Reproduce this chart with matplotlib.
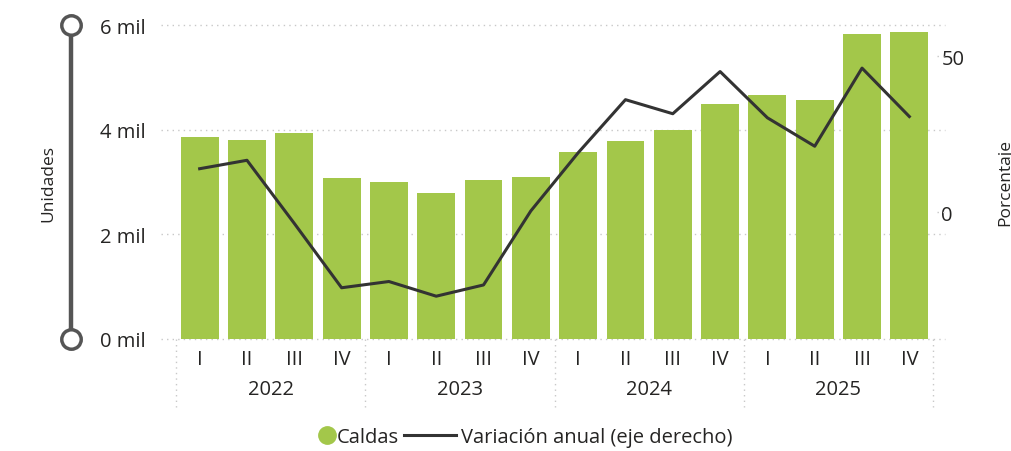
import matplotlib
matplotlib.use("Agg")
import matplotlib.pyplot as plt
from matplotlib.lines import Line2D
import numpy as np

plt.rcParams['font.family'] = ['Open Sans', 'DejaVu Sans']

# data
years = ["2022", "2023", "2024", "2025"]
quarters = ["I", "II", "III", "IV"]
unidades = [3860, 3800, 3945, 3085, 3000, 2785, 3030, 3105,
            3580, 3775, 3985, 4495, 4655, 4570, 5820, 5875]
variacion = [14.0, 16.7, -3.5, -24.1, -22.1, -26.8, -23.2, 0.5,
             19.1, 36.1, 31.6, 45.1, 30.3, 21.2, 46.2, 30.7]
left_ticks = [0, 2000, 4000, 6000]
left_labels = ["0 mil", "2 mil", "4 mil", "6 mil"]
right_ticks = [0, 50]

GREEN = "#A3C74A"
TXT = "#252423"
GRID = "#C8C8C8"
FS = 14.5

fig = plt.figure(figsize=(10.11, 4.52), dpi=100)
ax = fig.add_axes([176 / 1011, 1 - 340 / 452, 757 / 1011, 314 / 452])
ax2 = ax.twinx()

x = np.arange(len(unidades))
ax.bar(x, unidades, width=0.8, color=GREEN, zorder=2)
ax.set_xlim(-0.5, len(unidades) - 0.5)
ax.set_ylim(0, 6000)

ax2.plot(x, variacion, color="#333333", lw=2.2, zorder=3)
ax2.set_ylim(-40.5, 60)
ax.set_zorder(1)
ax2.set_zorder(2)
ax2.patch.set_visible(False)

for a in (ax, ax2):
    for s in a.spines.values():
        s.set_visible(False)

# left axis
ax.set_yticks(left_ticks)
ax.set_yticklabels(left_labels)
ax.tick_params(axis="y", length=0, pad=22, labelsize=FS, labelcolor=TXT)
ax.hlines(left_ticks, -0.02, 1.016, transform=ax.get_yaxis_transform(),
          colors=GRID, linestyles=(0, (1, 3)), lw=1, clip_on=False, zorder=0)

# slider-like decoration at the left
xd = (71 - 176) / 757
ax.plot([xd, xd], [0, 6000], transform=ax.get_yaxis_transform(), clip_on=False,
        color="#555555", lw=3.2, marker="o", ms=14, mfc="white", mec="#555555",
        mew=2.5, zorder=5)

# right axis
ax2.set_yticks(right_ticks)
ax2.tick_params(axis="y", length=0, pad=6, labelsize=FS, labelcolor=TXT)
ax2.hlines(right_ticks, 1.005, 1.018, transform=ax2.get_yaxis_transform(),
           colors=GRID, linestyles=(0, (1, 3)), lw=1, clip_on=False)

# x axis: quarters and years
ax.set_xticks(x)
ax.set_xticklabels(quarters * len(years))
ax.tick_params(axis="x", length=0, pad=7, labelsize=FS, labelcolor=TXT)
for i, yr in enumerate(years):
    ax.text(i * 4 + 1.5, -0.159, yr, transform=ax.get_xaxis_transform(),
            ha="center", va="center", fontsize=FS, color=TXT)
for b in np.arange(-0.5, len(unidades), 4):
    ax.plot([b, b], [0, -0.217], transform=ax.get_xaxis_transform(),
            color=GRID, ls=(0, (1, 3)), lw=1, clip_on=False)

fig.text(48 / 1011, 1 - 183 / 452, "Unidades", rotation=90, ha="center",
         va="center", fontsize=12.5, color=TXT)
fig.text(1005 / 1011, 1 - 183 / 452, "Porcentaje", rotation=90, ha="center",
         va="center", fontsize=12.5, color=TXT)

# legend
ly = 1 - 438 / 452
h1 = Line2D([], [], ls="none", marker="o", ms=12.5, color=GREEN)
h2 = Line2D([], [], color="#333333", lw=2.2)
fig.legend([h1], ["Caldas"], loc="center right", bbox_to_anchor=(399 / 1011, ly),
           frameon=False, fontsize=FS, handlelength=0.8, handletextpad=0.1,
           borderaxespad=0, borderpad=0, labelcolor=TXT)
fig.legend([h2], ["Variación anual (eje derecho)"], loc="center left",
           bbox_to_anchor=(404 / 1011, ly), frameon=False, fontsize=FS,
           handlelength=2.6, handletextpad=0.25, borderaxespad=0, borderpad=0,
           labelcolor=TXT)

fig.savefig("out.png", dpi=100)
